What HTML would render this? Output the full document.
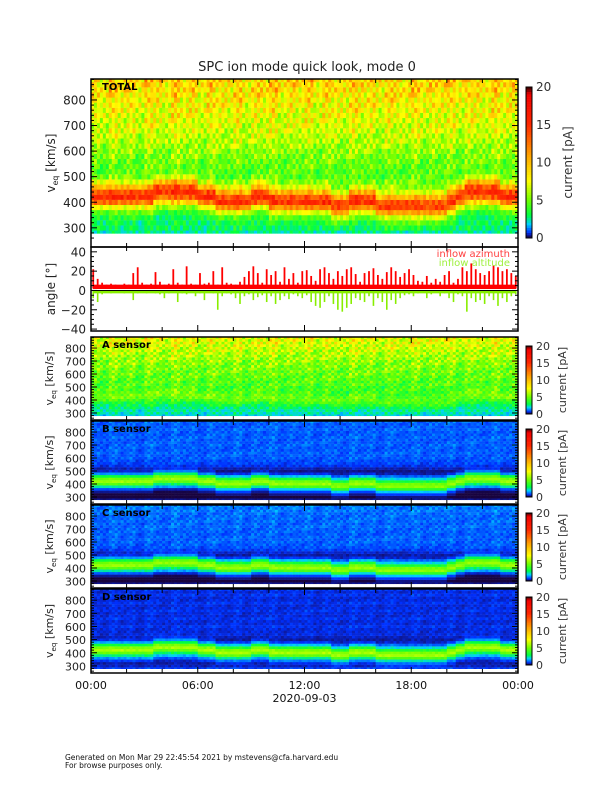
<!DOCTYPE html>
<html><head><meta charset="utf-8"><style>
html,body{margin:0;padding:0;background:#fff;}
svg{display:block;font-family:"DejaVu Sans","Liberation Sans",sans-serif;}
</style></head><body>
<svg id="chart" width="612" height="792" viewBox="0 0 612 792" xmlns="http://www.w3.org/2000/svg">
<rect x="0" y="0" width="612" height="792" fill="#fff"/>
<text x="307" y="71" font-size="13" text-anchor="middle" fill="#222">SPC ion mode quick look, mode 0</text>
<g id="panels"></g>
<g id="angle"></g>
<g font-size="11" fill="#111" text-anchor="middle">
<text x="91" y="689">00:00</text><text x="197.75" y="689">06:00</text><text x="304.5" y="689">12:00</text><text x="411.25" y="689">18:00</text><text x="518" y="689">00:00</text>
<text x="304.5" y="702">2020-09-03</text>
</g>
<text x="65" y="760" font-size="7.5" fill="#111">Generated on Mon Mar 29 22:45:54 2021 by mstevens@cfa.harvard.edu</text>
<text x="65" y="768" font-size="7.5" fill="#111">For browse purposes only.</text>
</svg>
<script>
// ---- data ----
const times = [0,0.5,1,1.5,2,2.5,3,3.5,4,4.5,5,5.5,6,6.5,7,7.5,8,8.5,9,9.5,10,10.5,11,11.5,12,12.5,13,13.5,14,14.5,15,15.5,16,16.5,17,17.5,18,18.5,19,19.5,20,20.5,21,21.5,22,22.5,23,23.5];
const peakSpeed = [425,425,428,428,425,428,430,432,440,445,445,440,420,415,410,408,400,405,420,415,405,400,400,398,410,405,395,390,385,395,400,398,390,385,380,378,380,382,385,390,405,420,440,450,445,440,430,425];
const speedBins = [280,300,320,340,360,380,400,420,440,460,480,500,520,540,560,580,600,620,640,660,680,700,720,740,760,780,800,820,840,860,880];
const bgTotal = [2.5,3,3,3,3.2,3.8,4.8,5,5,5,5,4.6,4.6,4.8,5,5.3,5.6,6,6.3,6.6,6.9,7.1,7.3,7.5,7.8,8,8.2,8.5,8.8,9,9.2];
const bgA = [2,2.3,2.4,2.6,2.8,3,3.3,3.5,3.8,4,4.2,4.2,4.5,4.5,4.7,4.8,5,5,5.2,5.3,5.5,5.6,5.9,6.1,6.3,6.5,6.8,7,7.2,7.4,7.5];
const bgB = [0.3,0.05,0.05,0.08,0.2,0.7,1,1,1,0.8,0.4,0.3,0.45,0.7,0.85,0.9,1,1,1.05,1,1,1.05,1,1,1.05,1,1,1.05,1,1,1.1];
const bgC = [0.3,0.05,0.05,0.1,0.3,0.8,1,1,1,0.85,0.5,0.4,0.55,0.8,0.95,1,1.05,1.05,1.05,1,1.05,1.05,1.1,1.05,1.1,1.1,1.1,1.1,1.2,1.2,1.25];
const bgD = [0.8,0.5,0.4,0.5,0.7,0.9,1,1,1,0.8,0.5,0.4,0.5,0.6,0.6,0.6,0.7,0.6,0.6,0.7,0.6,0.6,0.7,0.6,0.6,0.7,0.6,0.6,0.7,0.6,0.7];
const coreShape = [0.05,0.15,0.35,0.75,1,0.85,0.5,0.2,0.05];
const colVar = [1,0.9,1.1,0.95,1.05,0.88,1.1,1,0.92,1.12,0.97,1.05,0.9,1.08,1,0.94,1.1,0.9,1.04,0.98,1.1,0.92,1.02,0.96,1.08,0.9,1.06,1,0.93,1.1,0.97,1.04,0.9,1.07,0.99,0.95,1.1,0.92,1.03,0.97,1.08,0.9,1.05,1,0.94,1.1,0.96,1.02];
const texture = [1,0.8,1.2,0.9,1.1,0.75,1.25,0.95,1.05,0.85,1.15,1,0.7,1.3,0.9,1.1,0.8];
const azimuth = [22,12,8,6,7,6,5,7,6,18,24,8,6,7,19,9,6,7,22,8,6,25,7,6,18,7,8,20,6,24,8,7,6,9,14,20,25,18,8,22,16,20,9,24,12,18,8,20,21,15,10,22,24,18,12,20,15,22,24,17,9,18,20,23,16,12,19,24,20,14,18,22,16,10,9,15,8,12,9,16,20,8,12,24,20,28,22,18,16,20,26,24,20,22,18,15];
const elevation = [-8,-12,-4,-2,-3,-2,-2,-3,-2,-10,-3,-2,-3,-2,-3,-4,-8,-3,-2,-12,-3,-4,-2,-6,-3,-10,-2,-3,-20,-6,-3,-4,-8,-14,-6,-4,-10,-7,-5,-12,-6,-14,-10,-6,-9,-4,-6,-8,-5,-12,-16,-18,-12,-6,-14,-20,-22,-18,-14,-8,-10,-12,-6,-16,-8,-12,-20,-10,-14,-8,-5,-4,-6,-3,-2,-8,-4,-2,-6,-3,-8,-12,-4,-6,-22,-8,-12,-10,-14,-6,-10,-16,-8,-12,-6,-4];
const azBase = 6;
const elBase = -3;
const speedTicks = [300,400,500,600,700,800];
const angleTicks = [-40,-20,0,20,40];
const cbTicks = [0,5,10,15,20];

// ---- helpers ----
const NS = "http://www.w3.org/2000/svg";
const X0 = 91, X1 = 518;
function xScale(h){ return X0 + h/24*(X1-X0); }
function mk(tag, attrs, parent){ const e = document.createElementNS(NS, tag); for (const k in attrs) e.setAttribute(k, attrs[k]); parent.appendChild(e); return e; }
const stops = [[0,[26,0,48]],[0.7,[0,48,255]],[1.8,[0,208,255]],[3,[0,255,64]],[5,[112,255,0]],[7.5,[255,255,0]],[11,[255,160,0]],[15,[255,40,0]],[19,[240,0,0]],[20,[40,0,0]]];
function cmap(v){
  if (v <= 0) v = 0; if (v >= 20) v = 20;
  for (let i=1;i<stops.length;i++){
    if (v <= stops[i][0]){
      const a = stops[i-1], b = stops[i], t = (v-a[0])/(b[0]-a[0]);
      const c = a[1].map((x,k)=>Math.round(x+(b[1][k]-x)*t));
      return "rgb("+c.join(",")+")";
    }
  }
  return "rgb(40,0,0)";
}

const panels = [
  {key:"total", label:"TOTAL", top:79, bottom:247, vmin:225, vmax:882, bg:bgTotal, amp:10, cbTop:87, cbBot:238, fs:12, tx:55},
  {key:"a", label:"A sensor", top:337, bottom:420, vmin:246, vmax:885, bg:bgA, amp:1.5, cbTop:346, cbBot:414, fs:11, tx:53},
  {key:"b", label:"B sensor", top:421, bottom:504, vmin:246, vmax:885, bg:bgB, amp:4.5, cbTop:429, cbBot:497, fs:11, tx:53},
  {key:"c", label:"C sensor", top:505, bottom:588, vmin:246, vmax:885, bg:bgC, amp:4.5, cbTop:513, cbBot:581, fs:11, tx:53},
  {key:"d", label:"D sensor", top:589, bottom:673, vmin:246, vmax:885, bg:bgD, amp:4.8, cbTop:597, cbBot:665, fs:11, tx:53}
];

const root = document.getElementById("panels");
const colW = (X1-X0)/times.length;
const SUB = 3;
panels.forEach(p=>{
  const g = mk("g", {}, root);
  
  
  const yS = v => p.top + (p.vmax - v)/(p.vmax - p.vmin)*(p.bottom - p.top);
  times.forEach((t,i)=>{
    speedBins.forEach((c,j)=>{
      const k = Math.round((c - peakSpeed[i])/20) + 4;
      const core = (k>=0 && k<coreShape.length) ? p.amp*coreShape[k] : 0;
      const y1 = yS(Math.min(c+10,p.vmax)), y2 = yS(c===280 ? c-2 : c-10);
      for (let s=0;s<SUB;s++){
        const val = p.bg[j]*colVar[i]*texture[(i*7+j*3+s*5)%texture.length] + core*(0.9+0.2*texture[(i+j+s*3)%texture.length]/1.3);
        const r = mk("rect", {x:(xScale(t)+s*colW/SUB).toFixed(2), y:y1.toFixed(2), width:(colW/SUB+0.3).toFixed(2), height:(y2-y1+0.2).toFixed(2), fill:cmap(val)}, g);
        
        
      }
    });
  });
  const f = mk("rect", {x:X0, y:p.top, width:X1-X0, height:p.bottom-p.top, fill:"none", stroke:"#000", "stroke-width":1.5}, g);
  
  
  for (let v=260; v<=880; v+=20){
    const y = yS(v); if (y < p.top || y > p.bottom) continue;
    const len = (v%100===0)?6:3;
    mk("line",{x1:X0,x2:X0+len,y1:y,y2:y,stroke:"#000","stroke-width":1},g);
    mk("line",{x1:X1,x2:X1-len,y1:y,y2:y,stroke:"#000","stroke-width":1},g);
  }
  speedTicks.forEach(v=>{
    const t = mk("text",{x:86,y:yS(v)+4.5,"font-size":p.fs,"text-anchor":"end",fill:"#222"},g);
    t.textContent = v;
    
    
  });
  for (let h=0; h<=24; h+=2){
    const x = xScale(h), len = (h%6===0)?6:4;
    mk("line",{x1:x,x2:x,y1:p.bottom,y2:p.bottom-len,stroke:"#000","stroke-width":1},g);
    mk("line",{x1:x,x2:x,y1:p.top,y2:p.top+len,stroke:"#000","stroke-width":1},g);
  }
  const cy = (p.top+p.bottom)/2;
  const yt = mk("text",{x:0,y:0,"font-size":p.fs,fill:"#222","text-anchor":"middle",transform:"translate("+p.tx+","+cy+") rotate(-90)"},g);
  yt.innerHTML = 'v<tspan font-size="'+(p.fs*0.65)+'" dy="3">eq</tspan><tspan dy="-3"> [km/s]</tspan>';
  
  
  const lb = mk("text",{x:102,y:p.top+11,"font-size":10,"font-weight":"bold",fill:"#000"},g);
  lb.textContent = p.label;
  
  
  const cb = mk("g",{},g);
  
  
  const n = 60, h = (p.cbBot-p.cbTop)/n;
  for (let s=0;s<n;s++){
    const v = (n-s-0.5)/n*20;
    mk("rect",{x:526,y:(p.cbTop+s*h).toFixed(2),width:6,height:(h+0.3).toFixed(2),fill:cmap(v)},cb);
  }
  mk("rect",{x:526,y:p.cbTop,width:6,height:p.cbBot-p.cbTop,fill:"none",stroke:"#000","stroke-width":1},cb);
  cbTicks.forEach(v=>{
    const y = p.cbBot - v/20*(p.cbBot-p.cbTop);
    const t = mk("text",{x:536,y:y+4,"font-size":p.fs,fill:"#333"},cb);
    t.textContent = v;
  });
  const ct = mk("text",{x:0,y:0,"font-size":p.fs,fill:"#333","text-anchor":"middle",transform:"translate("+(p.key==="total"?572:566)+","+((p.cbTop+p.cbBot)/2)+") rotate(-90)"},cb);
  ct.textContent = "current [pA]";
  
  
});

// ---- angle panel ----
const ag = document.getElementById("angle");


const AT = 247, AB = 331, AMIN = -42, AMAX = 45;
const aY = v => AT + (AMAX - v)/(AMAX-AMIN)*(AB-AT);
const step = (X1-X0)/azimuth.length;
const gb = mk("rect",{x:X0+2,y:aY(0.5),width:X1-X0-4,height:aY(elBase)-aY(0.5),fill:"#88ee00"},ag);


const rb = mk("rect",{x:X0+2,y:aY(azBase),width:X1-X0-4,height:aY(1.5)-aY(azBase),fill:"#ff0000"},ag);


elevation.forEach((v,i)=>{
  const x = X0 + (i+0.5)*step;
  const l = mk("line",{x1:x,x2:x,y1:aY(0),y2:aY(v),stroke:"#88ee00","stroke-width":1.6},ag);
  
  
});
azimuth.forEach((v,i)=>{
  const x = X0 + (i+0.5)*step;
  const l = mk("line",{x1:x,x2:x,y1:aY(2),y2:aY(v),stroke:"#ff0000","stroke-width":1.8},ag);
  
  
});
mk("line",{x1:X0,x2:X1,y1:aY(0),y2:aY(0),stroke:"#000","stroke-width":1},ag);
mk("rect",{x:X0,y:AT,width:X1-X0,height:AB-AT,fill:"none",stroke:"#000","stroke-width":1.5},ag);
for (let v=-40; v<=40; v+=5){
  const len = (v%20===0)?6:3;
  mk("line",{x1:X0,x2:X0+len,y1:aY(v),y2:aY(v),stroke:"#000"},ag);
  mk("line",{x1:X1,x2:X1-len,y1:aY(v),y2:aY(v),stroke:"#000"},ag);
}
for (let h=0; h<=24; h+=2){
  const x = xScale(h), len = (h%6===0)?6:4;
  mk("line",{x1:x,x2:x,y1:AB,y2:AB-len,stroke:"#000"},ag);
  mk("line",{x1:x,x2:x,y1:AT,y2:AT+len,stroke:"#000"},ag);
}
angleTicks.forEach(v=>{
  const t = mk("text",{x:86,y:aY(v)+4.5,"font-size":12,"text-anchor":"end",fill:"#222"},ag);
  t.textContent = v===0?"0":(v<0?"\u2212"+(-v):v);
  
  
});
const at = mk("text",{x:0,y:0,"font-size":12,fill:"#222","text-anchor":"middle",transform:"translate(55,289) rotate(-90)"},ag);
at.textContent = "angle [\u00b0]";


const l1 = mk("text",{x:510,y:257,"font-size":10,"text-anchor":"end",fill:"#ff4040"},ag);
l1.textContent = "inflow azimuth";


const l2 = mk("text",{x:510,y:266,"font-size":10,"text-anchor":"end",fill:"#a0f040"},ag);
l2.textContent = "inflow altitude";


</script>
</body></html>
